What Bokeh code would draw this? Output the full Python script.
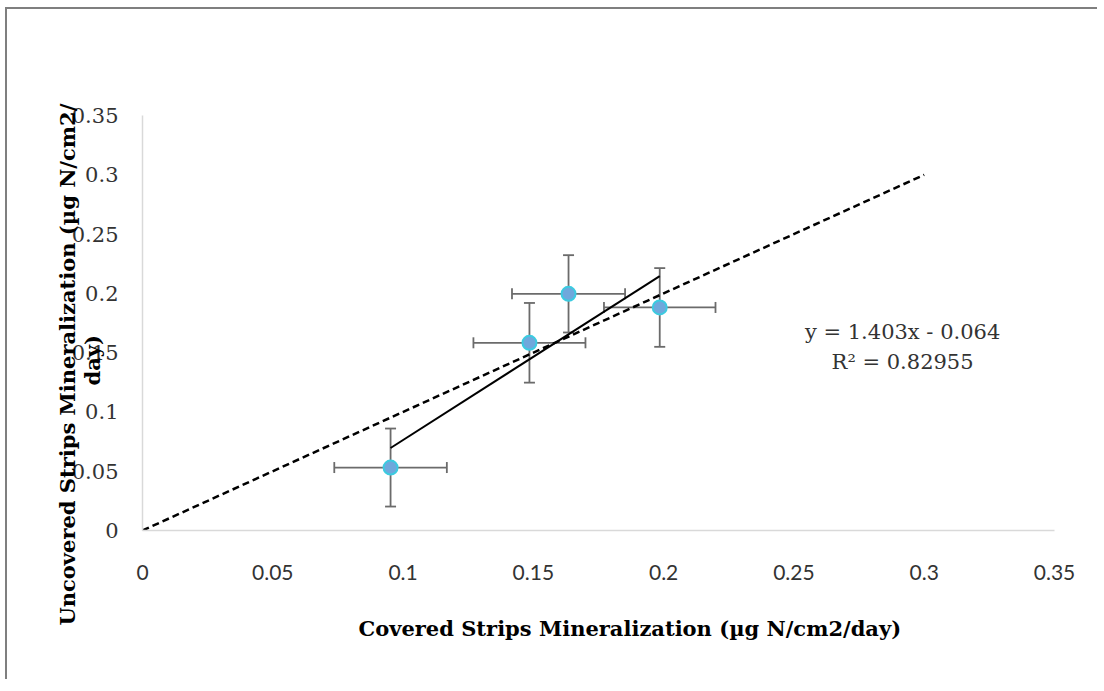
import numpy as np
from bokeh.plotting import figure
from bokeh.models import Range1d, FixedTicker, ColumnDataSource, Whisker, TeeHead, Label, Title
from bokeh.embed import file_html
from bokeh.resources import INLINE

# ---- data ----
covered = [0.0952, 0.1485, 0.1635, 0.1985]
uncovered = [0.0531, 0.1583, 0.1996, 0.1881]
covered_err = [0.0216, 0.0215, 0.0217, 0.0214]
uncovered_err = [0.0329, 0.0336, 0.0326, 0.0332]
one_to_one_x = [0, 0.3]
one_to_one_y = [0, 0.3]
slope = 1.403
intercept = -0.064
r_squared = 0.82955
tick_values = [0, 0.05, 0.1, 0.15, 0.2, 0.25, 0.3, 0.35]
tick_labels = ["0", "0.05", "0.1", "0.15", "0.2", "0.25", "0.3", "0.35"]
x_title = "Covered Strips Mineralization (µg N/cm2/day)"
y_title_1 = "Uncovered Strips Mineralization (µg N/cm2/"
y_title_2 = "day)"

SERIF = "DejaVu Serif"
SANS = "Lato"

p = figure(width=1092, height=672, output_backend="svg", toolbar_location=None,
           x_range=Range1d(0, 0.35), y_range=Range1d(0, 0.35),
           min_border_left=135, min_border_right=45, min_border_top=106, min_border_bottom=151)
p.styles = {"border-top": "2px solid #7f7f7f", "border-left": "2px solid #7f7f7f",
            "margin-left": "5px", "margin-top": "7px"}
p.outline_line_color = None
p.grid.visible = False
p.background_fill_color = "white"
p.border_fill_color = "white"

overrides = {v: l for v, l in zip(tick_values, tick_labels)}
for ax, standoff, font in ((p.xaxis[0], 34, SANS), (p.yaxis[0], 24, SERIF)):
    ax.ticker = FixedTicker(ticks=tick_values)
    ax.major_label_overrides = overrides
    ax.axis_line_color = "#d9d9d9"
    ax.axis_line_width = 1.5
    ax.major_tick_line_color = None
    ax.minor_tick_line_color = None
    ax.major_tick_out = 0
    ax.major_tick_in = 0
    ax.major_label_text_font = font
    ax.major_label_text_font_size = "21px"
    ax.major_label_text_color = "#333333"
    ax.major_label_standoff = standoff

title_style = dict(text_font=SERIF, text_font_style="bold", text_font_size="21px", text_color="black")
p.add_layout(Title(text=x_title, align="left", offset=216, standoff=66, vertical_align="top",
                   **title_style), "below")
p.add_layout(Title(text=y_title_2, align="left", offset=145, standoff=-72, vertical_align="bottom",
                   **title_style), "left")
p.add_layout(Title(text=y_title_1, align="left", offset=-95, standoff=-22, vertical_align="bottom",
                   **title_style), "left")

# 1:1 dashed line
p.line(one_to_one_x, one_to_one_y, line_color="black", line_width=2.5, line_dash="7 4")

# error bars
src = ColumnDataSource(dict(
    x=covered, y=uncovered,
    xl=[a - b for a, b in zip(covered, covered_err)],
    xu=[a + b for a, b in zip(covered, covered_err)],
    yl=[a - b for a, b in zip(uncovered, uncovered_err)],
    yu=[a + b for a, b in zip(uncovered, uncovered_err)],
))
err_col = "#6b6b6b"
for base, lo, up, dim in (("y", "xl", "xu", "width"), ("x", "yl", "yu", "height")):
    p.add_layout(Whisker(source=src, base=base, lower=lo, upper=up, dimension=dim,
                         line_color=err_col, line_width=1.8,
                         lower_head=TeeHead(size=11, line_color=err_col, line_width=1.8),
                         upper_head=TeeHead(size=11, line_color=err_col, line_width=1.8),
                         level="underlay"))

# trendline
tx = np.array([min(covered), max(covered)])
p.line(tx, slope * tx + intercept, line_color="black", line_width=2)

# points
p.scatter("x", "y", source=src, size=14, fill_color="#6fa8dc", line_color="#3ccbe0", line_width=2)

# equation
p.add_layout(Label(x=0.2917, y=0.1673, text=f"y = {slope}x - {abs(intercept)}",
                   text_font=SERIF, text_font_size="21px", text_color="#333333",
                   text_align="center", text_baseline="middle"))
p.add_layout(Label(x=0.2917, y=0.1425, text=f"R² = {r_squared}",
                   text_font=SERIF, text_font_size="21px", text_color="#333333",
                   text_align="center", text_baseline="middle"))

open("out.html", "w").write(file_html(p, INLINE))
